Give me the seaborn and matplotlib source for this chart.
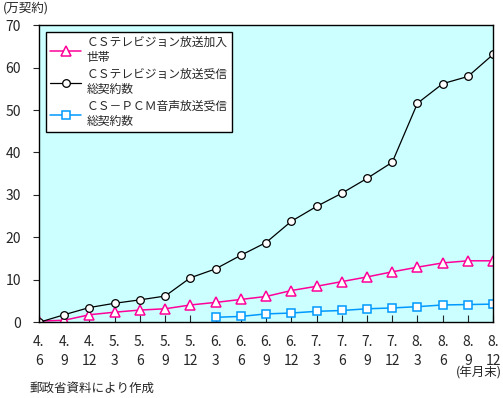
import matplotlib
matplotlib.use("Agg")
import matplotlib.pyplot as plt
import seaborn as sns

periods = ["4.\n6", "4.\n9", "4.\n12", "5.\n3", "5.\n6", "5.\n9", "5.\n12",
           "6.\n3", "6.\n6", "6.\n9", "6.\n12", "7.\n3", "7.\n6", "7.\n9",
           "7.\n12", "8.\n3", "8.\n6", "8.\n9", "8.\n12"]
cs_households = [0.3, 0.5, 1.8, 2.4, 2.9, 3.2, 4.1, 4.7, 5.4, 6.1, 7.5, 8.5,
                 9.6, 10.7, 11.9, 13.0, 14.0, 14.5, 14.5]
cs_contracts = [0.0, 1.8, 3.5, 4.5, 5.3, 6.2, 10.5, 12.6, 15.8, 18.8, 23.8,
                27.3, 30.4, 33.9, 37.7, 51.6, 56.2, 57.9, 63.1]
pcm_contracts = [None, None, None, None, None, None, None, 1.2, 1.4, 2.0, 2.2,
                 2.6, 2.8, 3.2, 3.4, 3.7, 4.1, 4.2, 4.3]

label_households = "ＣＳテレビジョン放送加入\n世帯"
label_contracts = "ＣＳテレビジョン放送受信\n総契約数"
label_pcm = "ＣＳ－ＰＣＭ音声放送受信\n総契約数"

sns.set_style("ticks")
plt.rcParams["font.family"] = ["Noto Sans CJK JP", "DejaVu Sans"]

fig = plt.figure(figsize=(5.03, 3.98), dpi=100)
ax = fig.add_axes([0.0775, 0.19, 0.903, 0.747])
ax.set_facecolor("#CCFFFF")

pos = list(range(len(periods)))
pcm_pos = [p for p, v in zip(pos, pcm_contracts) if v is not None]
pcm_vals = [v for v in pcm_contracts if v is not None]

sns.lineplot(x=pos, y=cs_households, ax=ax, color="#FF0099", lw=1.1,
             marker="^", markersize=6.5, markerfacecolor="white",
             markeredgecolor="#FF0099", markeredgewidth=1.1,
             label=label_households)
sns.lineplot(x=pos, y=cs_contracts, ax=ax, color="black", lw=0.9,
             marker="o", markersize=5.5, markerfacecolor="white",
             markeredgecolor="black", markeredgewidth=0.9,
             label=label_contracts)
sns.lineplot(x=pcm_pos, y=pcm_vals, ax=ax, color="#0099FF", lw=1.1,
             marker="s", markersize=5.5, markerfacecolor="white",
             markeredgecolor="#0099FF", markeredgewidth=1.1,
             label=label_pcm)

ax.set_xlim(0, len(periods) - 1)
ax.set_ylim(0, 70)
ax.set_yticks(range(0, 71, 10))
ax.set_xticks(pos)
ax.set_xticklabels(periods, linespacing=1.45)
ax.tick_params(axis="x", direction="in", length=5, width=0.8, labelsize=10, pad=9)
ax.tick_params(axis="y", direction="out", length=4, width=0.8, labelsize=10, pad=9)
for s in ax.spines.values():
    s.set_color("black")
    s.set_linewidth(1.0)
ax.set_xlabel("")
ax.set_ylabel("")

leg = ax.legend(loc="upper left", bbox_to_anchor=(0.016, 0.978), borderaxespad=0,
                fancybox=False, framealpha=1, edgecolor="black", fontsize=8.5,
                handlelength=2.6, handletextpad=0.5, labelspacing=0.35,
                borderpad=0.35)
leg.get_frame().set_linewidth(1.0)

fig.text(0.006, 0.98, "(万契約)", fontsize=9, ha="left", va="center")
fig.text(0.997, 0.062, "(年月末)", fontsize=9, ha="right", va="center")
fig.text(0.058, 0.025, "郵政省資料により作成", fontsize=9, ha="left", va="center")

fig.savefig("out.png", dpi=100)
